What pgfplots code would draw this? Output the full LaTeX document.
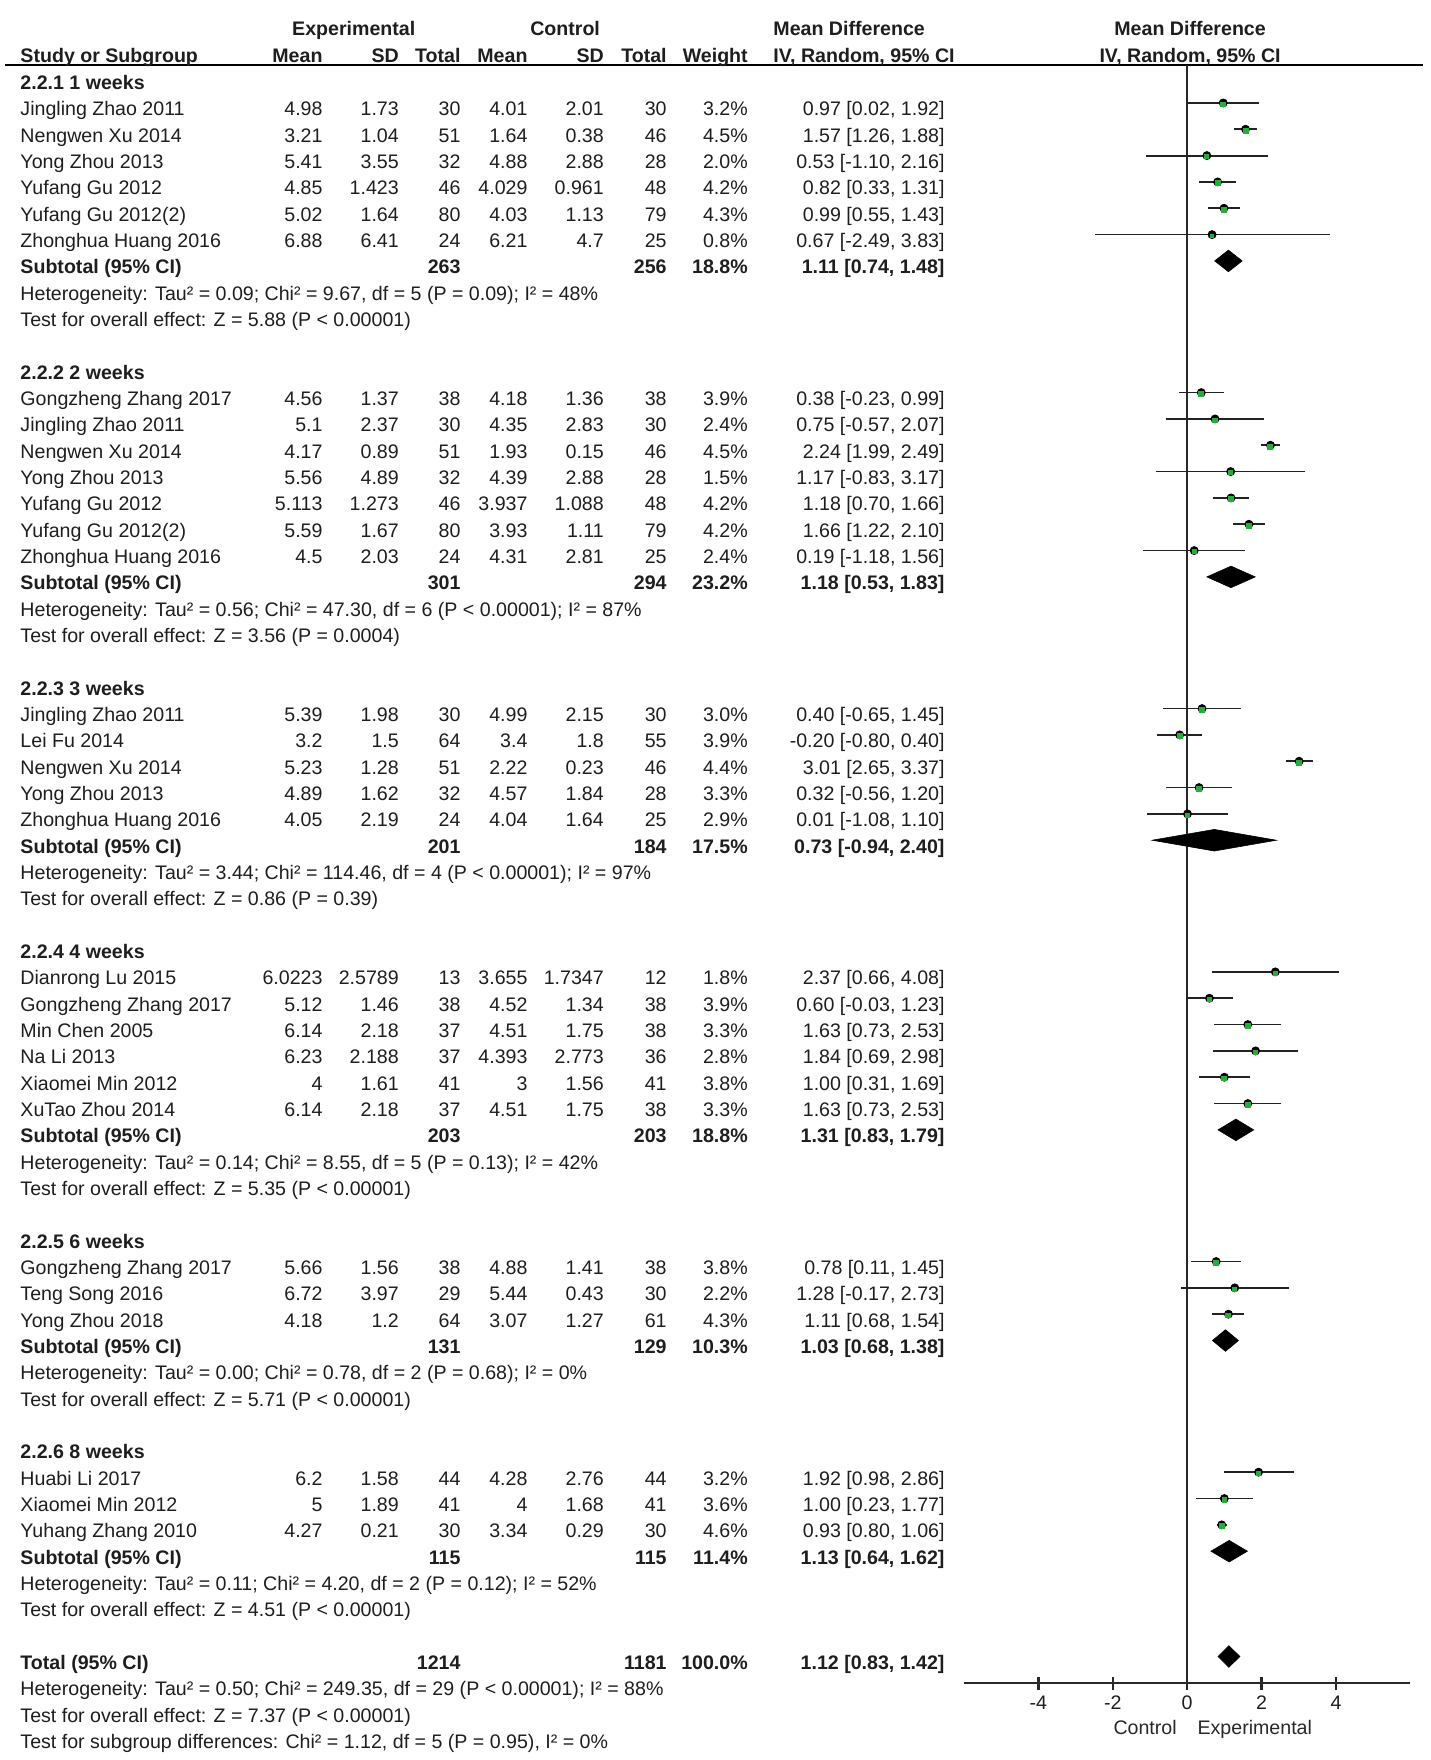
\documentclass[border=0pt]{standalone}
\usepackage{fontspec}
\setmainfont{Liberation Sans}
\usepackage{pgfplots}
\usepackage{pgfplotstable}
\pgfplotsset{compat=1.18}

\definecolor{txt}{RGB}{30,30,30}
\definecolor{ciline}{RGB}{35,35,35}
\definecolor{sq}{RGB}{40,170,60}
\definecolor{ax}{RGB}{40,40,40}

% text columns, in forest-plot units
\def\cName{-31.37}
\def\cMa{-23.23}
\def\cSa{-21.18}
\def\cNa{-19.52}
\def\cMb{-17.72}
\def\cSb{-15.67}
\def\cNb{-13.98}
\def\cW{-11.80}
\def\cCI{-6.51}
\def\bl{0.266}

\tikzset{
  tw/.style={anchor=base west, inner sep=0pt, text=txt},
  te/.style={anchor=base east, inner sep=0pt, text=txt},
  tc/.style={anchor=base, inner sep=0pt, text=txt},
}

% r, name, mean, sd, total (exp), mean, sd, total (ctrl), weight
\newcommand\study[9]{%
  \node[tw] at (axis cs:\cName,-#1-\bl) {#2};
  \node[te] at (axis cs:\cMa,-#1-\bl) {#3};
  \node[te] at (axis cs:\cSa,-#1-\bl) {#4};
  \node[te] at (axis cs:\cNa,-#1-\bl) {#5};
  \node[te] at (axis cs:\cMb,-#1-\bl) {#6};
  \node[te] at (axis cs:\cSb,-#1-\bl) {#7};
  \node[te] at (axis cs:\cNb,-#1-\bl) {#8};
  \node[te] at (axis cs:\cW,-#1-\bl) {#9\%};
}
\newcommand\ci[2]{\node[te] at (axis cs:\cCI,-#1-\bl) {#2};}
\newcommand\lefttext[3][]{\node[tw,#1] at (axis cs:\cName,-#2-\bl) {#3};}
% r, label, n exp, n ctrl, weight, ci
\newcommand\subtot[6]{%
  \node[tw,font=\bfseries] at (axis cs:\cName,-#1-\bl) {#2};
  \node[te,font=\bfseries] at (axis cs:\cNa,-#1-\bl) {#3};
  \node[te,font=\bfseries] at (axis cs:\cNb,-#1-\bl) {#4};
  \node[te,font=\bfseries] at (axis cs:\cW,-#1-\bl) {#5\%};
  \node[te,font=\bfseries] at (axis cs:\cCI,-#1-\bl) {#6};
}
% r, md, lo, hi
\newcommand\diam[4]{%
  \pgfmathsetmacro\yc{-#1+0.23}%
  \pgfmathsetmacro\yt{\yc+0.41}%
  \pgfmathsetmacro\yb{\yc-0.41}%
  \addplot[draw=black, fill=black, line width=0.3pt]
    coordinates {(#3,\yc) (#2,\yt) (#4,\yc) (#2,\yb)} -- cycle;
}

\pgfplotstableread{
r  md    lo    hi   w
1  0.97  0.02  1.92 3.2
2  1.57  1.26  1.88 4.5
3  0.53 -1.10  2.16 2.0
4  0.82  0.33  1.31 4.2
5  0.99  0.55  1.43 4.3
6  0.67 -2.49  3.83 0.8
12 0.38 -0.23  0.99 3.9
13 0.75 -0.57  2.07 2.4
14 2.24  1.99  2.49 4.5
15 1.17 -0.83  3.17 1.5
16 1.18  0.70  1.66 4.2
17 1.66  1.22  2.10 4.2
18 0.19 -1.18  1.56 2.4
24 0.40 -0.65  1.45 3.0
25 -0.20 -0.80 0.40 3.9
26 3.01  2.65  3.37 4.4
27 0.32 -0.56  1.20 3.3
28 0.01 -1.08  1.10 2.9
34 2.37  0.66  4.08 1.8
35 0.60 -0.03  1.23 3.9
36 1.63  0.73  2.53 3.3
37 1.84  0.69  2.98 2.8
38 1.00  0.31  1.69 3.8
39 1.63  0.73  2.53 3.3
45 0.78  0.11  1.45 3.8
46 1.28 -0.17  2.73 2.2
47 1.11  0.68  1.54 4.3
53 1.92  0.98  2.86 3.2
54 1.00  0.23  1.77 3.6
55 0.93  0.80  1.06 4.6
}\studies

\begin{document}
\fontsize{9.8}{12}\selectfont
\begin{tikzpicture}
\begin{axis}[
    x=18.6pt, y=13.165pt,
    xmin=-6, xmax=6,
    ymin=-60.78, ymax=0.68,
    axis x line=bottom, axis y line=none,
    x axis line style={-, line width=1.2pt, draw=ax},
    xtick={-4,-2,0,2,4},
    tick align=center,
    major tick length=6.5pt,
    tick style={line width=1.2pt, draw=ax},
    xticklabel style={anchor=center, yshift=-6.5pt, inner sep=0pt, text=txt},
    /pgf/number format/assume math mode=true,
    clip=false,
]
% frame of the page
\coordinate (BL) at (axis cs:-31.91,-63.70);
\coordinate (TR) at (axis cs:6.53,3.14);

% header
\draw[line width=1pt, black] (axis cs:-31.77,0.68) -- (axis cs:6.35,0.68);
\node[tc,font=\bfseries] at (axis cs:-22.40,2.04-\bl) {Experimental};
\node[tc,font=\bfseries] at (axis cs:-16.72,2.04-\bl) {Control};
\node[tw,font=\bfseries] at (axis cs:-11.13,2.04-\bl) {Mean Difference};
\node[tc,font=\bfseries] at (axis cs:0.08,2.04-\bl) {Mean Difference};
\node[tw,font=\bfseries] at (axis cs:\cName,1.05-\bl) {Study or Subgroup};
\node[te,font=\bfseries] at (axis cs:\cMa,1.05-\bl) {Mean};
\node[te,font=\bfseries] at (axis cs:\cSa,1.05-\bl) {SD};
\node[te,font=\bfseries] at (axis cs:\cNa,1.05-\bl) {Total};
\node[te,font=\bfseries] at (axis cs:\cMb,1.05-\bl) {Mean};
\node[te,font=\bfseries] at (axis cs:\cSb,1.05-\bl) {SD};
\node[te,font=\bfseries] at (axis cs:\cNb,1.05-\bl) {Total};
\node[te,font=\bfseries] at (axis cs:\cW,1.05-\bl) {Weight};
\node[tw,font=\bfseries] at (axis cs:-11.13,1.05-\bl) {IV, Random, 95\% CI};
\node[tc,font=\bfseries] at (axis cs:0.08,1.05-\bl) {IV, Random, 95\% CI};

% line of no effect
\draw[line width=1pt, ax] (axis cs:0,0.68) -- (axis cs:0,-60.78);

% 2.2.1
\lefttext[font=\bfseries]{0}{2.2.1 1 weeks}
\study{1}{Jingling Zhao 2011}{4.98}{1.73}{30}{4.01}{2.01}{30}{3.2}\ci{1}{0.97 [0.02, 1.92]}
\study{2}{Nengwen Xu 2014}{3.21}{1.04}{51}{1.64}{0.38}{46}{4.5}\ci{2}{1.57 [1.26, 1.88]}
\study{3}{Yong Zhou 2013}{5.41}{3.55}{32}{4.88}{2.88}{28}{2.0}\ci{3}{0.53 [-1.10, 2.16]}
\study{4}{Yufang Gu 2012}{4.85}{1.423}{46}{4.029}{0.961}{48}{4.2}\ci{4}{0.82 [0.33, 1.31]}
\study{5}{Yufang Gu 2012(2)}{5.02}{1.64}{80}{4.03}{1.13}{79}{4.3}\ci{5}{0.99 [0.55, 1.43]}
\study{6}{Zhonghua Huang 2016}{6.88}{6.41}{24}{6.21}{4.7}{25}{0.8}\ci{6}{0.67 [-2.49, 3.83]}
\subtot{7}{Subtotal (95\% CI)}{263}{256}{18.8}{1.11 [0.74, 1.48]}
\lefttext{8}{Heterogeneity: Tau² = 0.09; Chi² = 9.67, df = 5 (P = 0.09); I² = 48\%}
\lefttext{9}{Test for overall effect: Z = 5.88 (P < 0.00001)}

% 2.2.2
\lefttext[font=\bfseries]{11}{2.2.2 2 weeks}
\study{12}{Gongzheng Zhang 2017}{4.56}{1.37}{38}{4.18}{1.36}{38}{3.9}\ci{12}{0.38 [-0.23, 0.99]}
\study{13}{Jingling Zhao 2011}{5.1}{2.37}{30}{4.35}{2.83}{30}{2.4}\ci{13}{0.75 [-0.57, 2.07]}
\study{14}{Nengwen Xu 2014}{4.17}{0.89}{51}{1.93}{0.15}{46}{4.5}\ci{14}{2.24 [1.99, 2.49]}
\study{15}{Yong Zhou 2013}{5.56}{4.89}{32}{4.39}{2.88}{28}{1.5}\ci{15}{1.17 [-0.83, 3.17]}
\study{16}{Yufang Gu 2012}{5.113}{1.273}{46}{3.937}{1.088}{48}{4.2}\ci{16}{1.18 [0.70, 1.66]}
\study{17}{Yufang Gu 2012(2)}{5.59}{1.67}{80}{3.93}{1.11}{79}{4.2}\ci{17}{1.66 [1.22, 2.10]}
\study{18}{Zhonghua Huang 2016}{4.5}{2.03}{24}{4.31}{2.81}{25}{2.4}\ci{18}{0.19 [-1.18, 1.56]}
\subtot{19}{Subtotal (95\% CI)}{301}{294}{23.2}{1.18 [0.53, 1.83]}
\lefttext{20}{Heterogeneity: Tau² = 0.56; Chi² = 47.30, df = 6 (P < 0.00001); I² = 87\%}
\lefttext{21}{Test for overall effect: Z = 3.56 (P = 0.0004)}

% 2.2.3
\lefttext[font=\bfseries]{23}{2.2.3 3 weeks}
\study{24}{Jingling Zhao 2011}{5.39}{1.98}{30}{4.99}{2.15}{30}{3.0}\ci{24}{0.40 [-0.65, 1.45]}
\study{25}{Lei Fu 2014}{3.2}{1.5}{64}{3.4}{1.8}{55}{3.9}\ci{25}{-0.20 [-0.80, 0.40]}
\study{26}{Nengwen Xu 2014}{5.23}{1.28}{51}{2.22}{0.23}{46}{4.4}\ci{26}{3.01 [2.65, 3.37]}
\study{27}{Yong Zhou 2013}{4.89}{1.62}{32}{4.57}{1.84}{28}{3.3}\ci{27}{0.32 [-0.56, 1.20]}
\study{28}{Zhonghua Huang 2016}{4.05}{2.19}{24}{4.04}{1.64}{25}{2.9}\ci{28}{0.01 [-1.08, 1.10]}
\subtot{29}{Subtotal (95\% CI)}{201}{184}{17.5}{0.73 [-0.94, 2.40]}
\lefttext{30}{Heterogeneity: Tau² = 3.44; Chi² = 114.46, df = 4 (P < 0.00001); I² = 97\%}
\lefttext{31}{Test for overall effect: Z = 0.86 (P = 0.39)}

% 2.2.4
\lefttext[font=\bfseries]{33}{2.2.4 4 weeks}
\study{34}{Dianrong Lu 2015}{6.0223}{2.5789}{13}{3.655}{1.7347}{12}{1.8}\ci{34}{2.37 [0.66, 4.08]}
\study{35}{Gongzheng Zhang 2017}{5.12}{1.46}{38}{4.52}{1.34}{38}{3.9}\ci{35}{0.60 [-0.03, 1.23]}
\study{36}{Min Chen 2005}{6.14}{2.18}{37}{4.51}{1.75}{38}{3.3}\ci{36}{1.63 [0.73, 2.53]}
\study{37}{Na Li 2013}{6.23}{2.188}{37}{4.393}{2.773}{36}{2.8}\ci{37}{1.84 [0.69, 2.98]}
\study{38}{Xiaomei Min 2012}{4}{1.61}{41}{3}{1.56}{41}{3.8}\ci{38}{1.00 [0.31, 1.69]}
\study{39}{XuTao Zhou 2014}{6.14}{2.18}{37}{4.51}{1.75}{38}{3.3}\ci{39}{1.63 [0.73, 2.53]}
\subtot{40}{Subtotal (95\% CI)}{203}{203}{18.8}{1.31 [0.83, 1.79]}
\lefttext{41}{Heterogeneity: Tau² = 0.14; Chi² = 8.55, df = 5 (P = 0.13); I² = 42\%}
\lefttext{42}{Test for overall effect: Z = 5.35 (P < 0.00001)}

% 2.2.5
\lefttext[font=\bfseries]{44}{2.2.5 6 weeks}
\study{45}{Gongzheng Zhang 2017}{5.66}{1.56}{38}{4.88}{1.41}{38}{3.8}\ci{45}{0.78 [0.11, 1.45]}
\study{46}{Teng Song 2016}{6.72}{3.97}{29}{5.44}{0.43}{30}{2.2}\ci{46}{1.28 [-0.17, 2.73]}
\study{47}{Yong Zhou 2018}{4.18}{1.2}{64}{3.07}{1.27}{61}{4.3}\ci{47}{1.11 [0.68, 1.54]}
\subtot{48}{Subtotal (95\% CI)}{131}{129}{10.3}{1.03 [0.68, 1.38]}
\lefttext{49}{Heterogeneity: Tau² = 0.00; Chi² = 0.78, df = 2 (P = 0.68); I² = 0\%}
\lefttext{50}{Test for overall effect: Z = 5.71 (P < 0.00001)}

% 2.2.6
\lefttext[font=\bfseries]{52}{2.2.6 8 weeks}
\study{53}{Huabi Li 2017}{6.2}{1.58}{44}{4.28}{2.76}{44}{3.2}\ci{53}{1.92 [0.98, 2.86]}
\study{54}{Xiaomei Min 2012}{5}{1.89}{41}{4}{1.68}{41}{3.6}\ci{54}{1.00 [0.23, 1.77]}
\study{55}{Yuhang Zhang 2010}{4.27}{0.21}{30}{3.34}{0.29}{30}{4.6}\ci{55}{0.93 [0.80, 1.06]}
\subtot{56}{Subtotal (95\% CI)}{115}{115}{11.4}{1.13 [0.64, 1.62]}
\lefttext{57}{Heterogeneity: Tau² = 0.11; Chi² = 4.20, df = 2 (P = 0.12); I² = 52\%}
\lefttext{58}{Test for overall effect: Z = 4.51 (P < 0.00001)}

% overall
\subtot{60}{Total (95\% CI)}{1214}{1181}{100.0}{1.12 [0.83, 1.42]}
\lefttext{61}{Heterogeneity: Tau² = 0.50; Chi² = 249.35, df = 29 (P < 0.00001); I² = 88\%}
\lefttext{62}{Test for overall effect: Z = 7.37 (P < 0.00001)}
\lefttext{63}{Test for subgroup differences: Chi² = 1.12, df = 5 (P = 0.95), I² = 0\%}

% confidence intervals
\addplot[only marks, mark=none,
    error bars/.cd, x dir=both, x explicit, error mark=none,
    error bar style={draw=ciline, line width=0.9pt, solid}]
  table[x=md, y expr=-\thisrow{r}+0.23,
        x error plus expr=\thisrow{hi}-\thisrow{md},
        x error minus expr=\thisrow{md}-\thisrow{lo}] {\studies};
% study estimates, square size from weight
\addplot[scatter, only marks, mark=square*, color=sq,
    point meta=\thisrow{w},
    mark options={draw=sq, fill=sq, line width=0pt},
    scatter/use mapped color={draw=sq, fill=sq},
    visualization depends on={\thisrow{w} \as \wt},
    scatter/@pre marker code/.append style={/tikz/mark size=0.8pt+0.1pt*\wt}]
  table[x=md, y expr=-\thisrow{r}+0.18] {\studies};

% pooled estimates
\diam{7}{1.11}{0.74}{1.48}
\diam{19}{1.18}{0.53}{1.83}
\diam{29}{0.73}{-0.94}{2.40}
\diam{40}{1.31}{0.83}{1.79}
\diam{48}{1.03}{0.68}{1.38}
\diam{56}{1.13}{0.64}{1.62}
\diam{60}{1.12}{0.83}{1.42}

\node[anchor=base east, inner sep=0pt, text=ax] at (axis cs:-0.27,-62.45-\bl) {Control};
\node[anchor=base west, inner sep=0pt, text=ax] at (axis cs:0.27,-62.45-\bl) {Experimental};
\end{axis}
\pgfresetboundingbox
\path[use as bounding box] (BL) rectangle (TR);
\end{tikzpicture}
\end{document}
